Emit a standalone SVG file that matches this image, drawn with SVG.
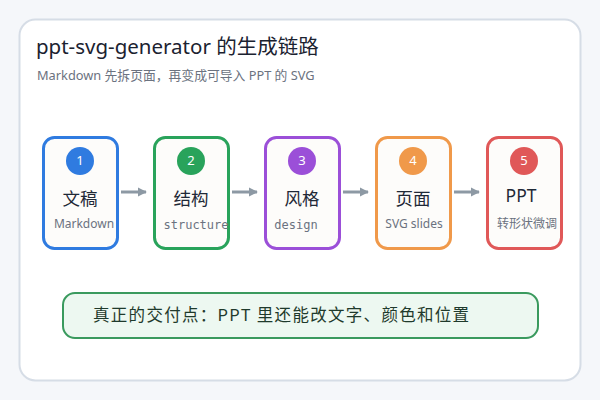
<svg xmlns="http://www.w3.org/2000/svg" width="600" height="400" viewBox="0 0 600 400">
<style>
.sans{font-family:"Noto Sans","Noto Sans CJK SC",sans-serif}
.cjk{font-family:"Noto Sans CJK SC","Noto Sans",sans-serif}
.mono{font-family:"DejaVu Sans Mono","Liberation Mono",monospace}
.box{fill:#fdfcfa;stroke-width:3}
.num{fill:#fff;font-size:13px;text-anchor:middle;font-family:"Noto Sans",sans-serif}
.ttl{fill:#1f2937;font-size:17.5px;text-anchor:middle}
.sub{fill:#6b7280;font-size:12px;text-anchor:middle}
.conn line{stroke:#8d99a4;stroke-width:3}
</style>
<defs>
<marker id="ah" viewBox="0 0 10 10" refX="9" refY="5" markerWidth="3" markerHeight="3.4" orient="auto" markerUnits="strokeWidth">
<path d="M0,0 L10,5 L0,10 z" fill="#8d99a4"/>
</marker>
</defs>
<rect width="600" height="400" fill="#f5f7fa"/>
<rect x="19.5" y="19.5" width="561" height="361" rx="16" fill="#fff" stroke="#d6dde6" stroke-width="2"/>
<text x="36" y="54" class="sans" font-size="20.5" fill="#1b2230">ppt-svg-generator 的生成链路</text>
<text x="37" y="80" class="sans" font-size="12.8" fill="#6b7280">Markdown 先拆页面，再变成可导入 PPT 的 SVG</text>

<g id="node1">
<rect class="box" x="43.5" y="137.5" width="74" height="111" rx="11" stroke="#2f7be0"/>
<circle cx="80" cy="161" r="14" fill="#2f7be0"/>
<text class="num" x="80" y="165">1</text>
<text class="ttl cjk" x="80" y="205">文稿</text>
<text class="sub sans" x="84" y="228" font-size="12.5">Markdown</text>
</g>
<g id="node2">
<rect class="box" x="154.5" y="137.5" width="74" height="111" rx="11" stroke="#29a35b"/>
<circle cx="191" cy="161" r="14" fill="#29a35b"/>
<text class="num" x="191" y="165">2</text>
<text class="ttl cjk" x="191" y="205">结构</text>
<text class="sub mono" x="196" y="229" font-size="11.5">structure</text>
</g>
<g id="node3">
<rect class="box" x="265.5" y="137.5" width="74" height="111" rx="11" stroke="#9b4fd8"/>
<circle cx="302" cy="161" r="14" fill="#9b4fd8"/>
<text class="num" x="302" y="165">3</text>
<text class="ttl cjk" x="302" y="205">风格</text>
<text class="sub mono" x="296" y="229" font-size="11.5">design</text>
</g>
<g id="node4">
<rect class="box" x="376.5" y="137.5" width="74" height="111" rx="11" stroke="#f0994a"/>
<circle cx="413" cy="161" r="14" fill="#f0994a"/>
<text class="num" x="413" y="165">4</text>
<text class="ttl cjk" x="413" y="205">页面</text>
<text class="sub sans" x="414" y="228">SVG slides</text>
</g>
<g id="node5">
<rect class="box" x="487.5" y="137.5" width="74" height="111" rx="11" stroke="#e05858"/>
<circle cx="524" cy="161" r="14" fill="#e05858"/>
<text class="num" x="524" y="165">5</text>
<text class="ttl sans" x="521" y="202" font-size="18">PPT</text>
<text class="sub cjk" x="527" y="228">转形状微调</text>
</g>

<g id="connectors" class="conn">
<line x1="121" y1="192" x2="146" y2="192" marker-end="url(#ah)"/>
<line x1="232" y1="192" x2="257" y2="192" marker-end="url(#ah)"/>
<line x1="343" y1="192" x2="368" y2="192" marker-end="url(#ah)"/>
<line x1="454" y1="192" x2="479" y2="192" marker-end="url(#ah)"/>
</g>

<g id="note">
<rect x="63" y="293" width="475" height="45" rx="12" fill="#edf8f1" stroke="#3a9a5e" stroke-width="2"/>
<text x="93" y="321" class="cjk" font-size="16.5" letter-spacing="1.3" fill="#1f3a2c">真正的交付点：PPT 里还能改文字、颜色和位置</text>
</g>
</svg>
